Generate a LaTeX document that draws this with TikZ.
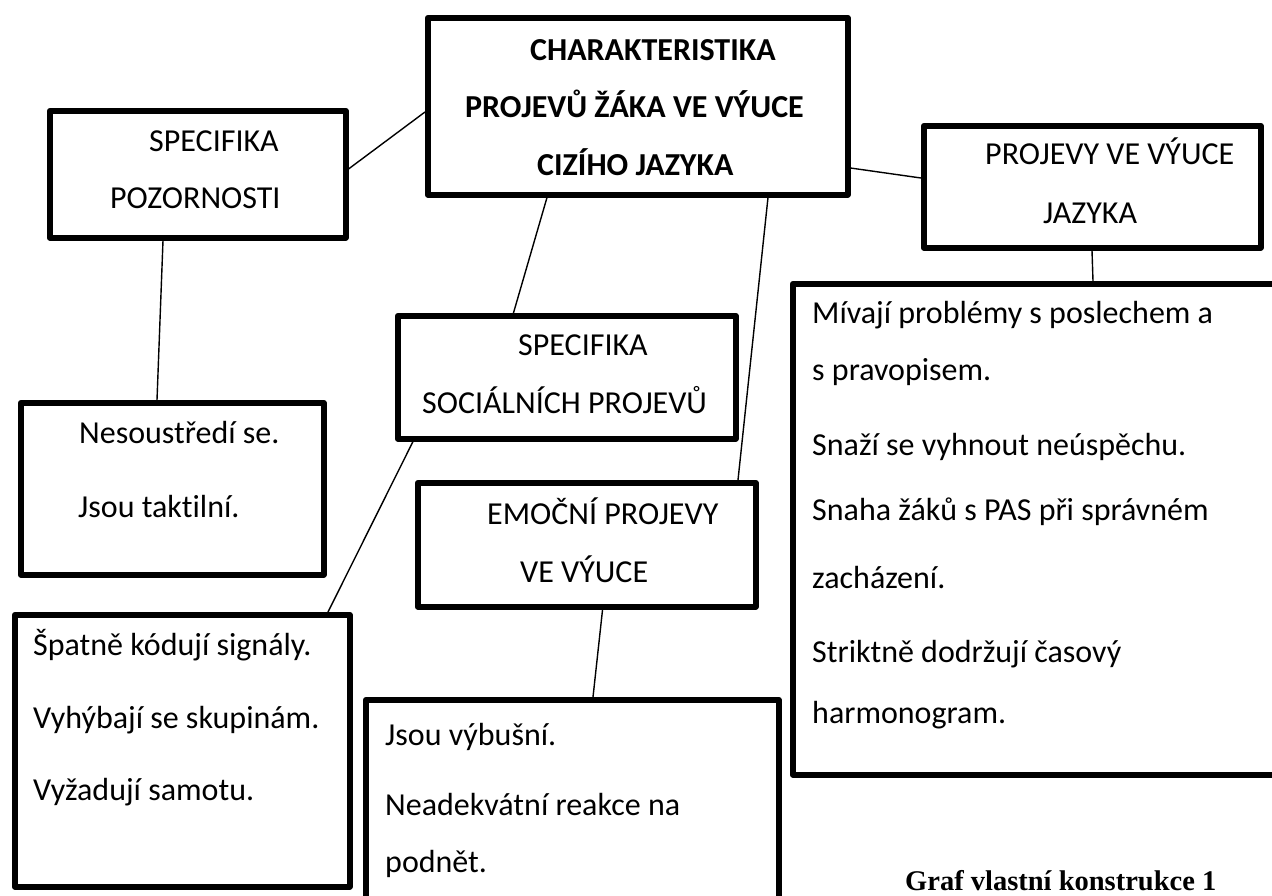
\documentclass[tikz,border=0pt]{standalone}
\usepackage{fontspec}
\setmainfont{Carlito}[Ligatures=NoCommon]
\newfontfamily\captionfont{Liberation Serif}
\begin{document}
\begin{tikzpicture}[x=1pt,y=-1pt,
  box/.style={draw=black,line width=5.5pt,line join=round,inner sep=0pt,anchor=north west},
  txt/.style={inner sep=0pt,anchor=base west,font=\fontsize{32}{38}\selectfont},
  head/.style={txt,font=\fontsize{32}{38}\selectfont\bfseries},
  link/.style={draw=black,line width=1.4pt}]
\useasboundingbox (0,0) rectangle (1272,895);

% boxes
\node[box,minimum width=420pt,minimum height=177pt] (C) at (425,15) {};
\node[box,minimum width=296pt,minimum height=127pt] (P) at (47,108) {};
\node[box,minimum width=303pt,minimum height=172pt] (N) at (18,400) {};
\node[box,minimum width=338pt,minimum height=123pt] (S) at (395,313) {};
\node[box,minimum width=338pt,minimum height=124pt] (E) at (415,480) {};
\node[box,minimum width=337pt,minimum height=122pt] (J) at (921,123) {};
\node[box,minimum width=500pt,minimum height=491pt] (M) at (790,281) {};
\node[box,minimum width=413pt,minimum height=260pt] (V) at (363,697) {};
\node[box,minimum width=335pt,minimum height=272pt] (Q) at (12,612) {};

% texts
\node[head] (c1) at (530,60) {CHARAKTERISTIKA};
\node[head] (c2) at (465,117) {PROJEVŮ ŽÁKA VE VÝUCE};
\node[head] (c3) at (537,175) {CIZÍHO JAZYKA};

\node[txt] (p1) at (149,151) {SPECIFIKA};
\node[txt] (p2) at (110,208) {POZORNOSTI};

\node[txt] (n1) at (79,443) {Nesoustředí se.};
\node[txt] (n2) at (78,517) {Jsou taktilní.};

\node[txt] (s1) at (518,355) {SPECIFIKA};
\node[txt] (s2) at (422,413) {SOCIÁLNÍCH PROJEVŮ};

\node[txt] (e1) at (487,524) {EMOČNÍ PROJEVY};
\node[txt] (e2) at (520,582) {VE VÝUCE};

\node[txt] (j1) at (985,164) {PROJEVY VE VÝUCE};
\node[txt] (j2) at (1043,223) {JAZYKA};

\node[txt] (m1) at (812,323) {Mívají problémy s poslechem a};
\node[txt] (m2) at (812,380) {s pravopisem.};
\node[txt] (m3) at (812,455) {Snaží se vyhnout neúspěchu.};
\node[txt] (m4) at (812,520) {Snaha žáků s PAS při správném};
\node[txt] (m5) at (812,588) {zacházení.};
\node[txt] (m6) at (812,662) {Striktně dodržují časový};
\node[txt] (m7) at (812,723) {harmonogram.};

\node[txt] (q1) at (33,655) {Špatně kódují signály.};
\node[txt] (q2) at (33,728) {Vyhýbají se skupinám.};
\node[txt] (q3) at (33,800) {Vyžadují samotu.};

\node[txt] (v1) at (385,745) {Jsou výbušní.};
\node[txt] (v2) at (385,815) {Neadekvátní reakce na};
\node[txt] (v3) at (385,872) {podnět.};

\node[inner sep=0pt,anchor=base west,font=\captionfont\fontsize{28.5}{33}\selectfont\bfseries] (cap) at (905,890) {Graf vlastní konstrukce 1};

% connectors
\draw[link] ([yshift=-97pt]C.north west) -- ([yshift=-61pt]P.north east);
\draw[link] ([xshift=116pt]P.south west) -- ([xshift=139pt]N.north west);
\draw[link] ([xshift=122pt]C.south west) -- ([xshift=117pt,yshift=-5pt]S.north west);
\draw[link] ([xshift=343pt]C.south west) -- ([xshift=323pt]E.north west);
\draw[link] ([yshift=-153pt]C.north east) -- ([yshift=-55pt]J.north west);
\draw[link] ([xshift=171pt]J.south west) -- ([xshift=303pt]M.north west);
\draw[link] ([xshift=20pt,yshift=4pt]S.south west) -- ([xshift=316pt]Q.north west);
\draw[link] ([xshift=188pt,yshift=4pt]E.south west) -- ([xshift=230pt]V.north west);
\end{tikzpicture}
\end{document}
